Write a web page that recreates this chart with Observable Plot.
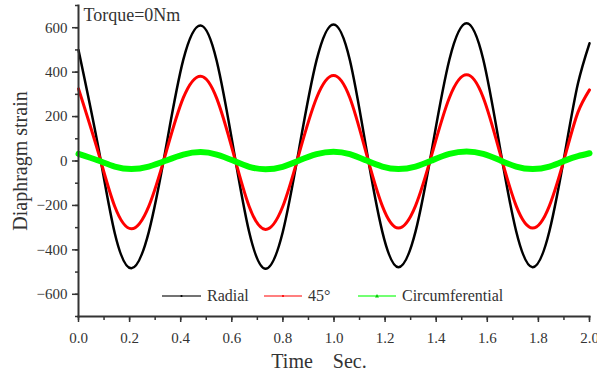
<!DOCTYPE html>
<html><head><meta charset="utf-8">
<script src="https://cdn.jsdelivr.net/npm/d3@7"></script>
<script src="https://cdn.jsdelivr.net/npm/@observablehq/plot@0.6"></script>
<style>
body{margin:0;background:#fff}
#wrap{position:relative;width:597px;height:374px;font-family:"Liberation Serif",serif;color:#333}
#wrap svg text{font-family:"Liberation Serif",serif}
.leg{position:absolute;top:286px;height:20px;display:flex;align-items:center;font-size:16px;white-space:nowrap}
.leg svg{margin-right:6px}
</style></head><body><div id="wrap"></div>
<script>
const times = [0,0.077,0.142,0.207,0.275,0.343,0.410,0.478,0.541,0.605,0.668,0.732,0.799,0.865,0.932,0.998,1.062,1.125,1.189,1.252,1.319,1.386,1.452,1.519,1.584,1.648,1.713,1.777,1.843,1.909,1.955,2.0];
const radial = [500,65,-325,-483,-320,65,455,610,450,65,-320,-485,-322,65,455,615,455,65,-318,-478,-318,70,458,620,458,70,-316,-478,-316,70,350,530];
const deg45 = [325,40,-205,-305,-204,40,284,382,282,40,-205,-308,-206,40,285,385,285,40,-202,-302,-202,42,286,388,286,42,-202,-302,-202,42,220,320];
const circumferential = [32,2,-25,-36,-25,2,29,40,29,2,-26,-37,-26,3,31,42,31,3,-25,-36,-25,4,32,43,32,4,-25,-36,-25,4,22,35];
const seriesNames = ["Radial","45°","Circumferential"];
const seriesColors = ["#000000","#ff0000","#00ff00"];
const seriesWidths = [2.5,3,6];
const xMajor = d3.range(0,2.0001,0.2);
const xMinor = d3.range(0,2.0001,0.1);
const yMajor = d3.range(-600,601,200);
const yMinor = d3.range(-700,701,100);
const title = "Torque=0Nm";
const xLabel = "Time\u00a0\u00a0\u00a0\u00a0Sec.";
const yLabel = "Diaphragm strain";

const data = [];
[radial,deg45,circumferential].forEach((vals,si)=>{
  vals.forEach((v,i)=>data.push({t:times[i],v,s:seriesNames[si]}));
});

const FF = "Liberation Serif";
const lineMarks = seriesNames.map((name,si)=>Plot.line(data.filter(d=>d.s===name),{x:"t",y:"v",stroke:seriesColors[si],strokeWidth:seriesWidths[si],curve:"natural"}));

const plot = Plot.plot({
  width:597,height:374,
  marginLeft:78,marginRight:8,marginTop:5,marginBottom:58,
  style:{fontFamily:"'Liberation Serif', serif",fontSize:"15px",color:"#333",background:"#fff"},
  x:{domain:[0,2]},
  y:{domain:[-700,700]},
  marks:[
    ...lineMarks,
    Plot.axisX({ticks:xMinor,tickSize:4,text:null,label:null,strokeWidth:1.5,stroke:"#333"}),
    Plot.axisX({ticks:xMajor,tickSize:6,tickPadding:10,tickFormat:d3.format(".1f"),label:null,fontSize:15,fontFamily:FF,strokeWidth:1.5,stroke:"#333",fill:"#333"}),
    Plot.axisY({ticks:yMinor,tickSize:3,text:null,label:null,strokeWidth:1.5,stroke:"#333"}),
    Plot.axisY({ticks:yMajor,tickSize:6,tickPadding:5,tickFormat:d3.format("d"),label:null,fontSize:15,fontFamily:FF,strokeWidth:1.5,stroke:"#333",fill:"#333"}),
    Plot.frame({anchor:"left",stroke:"#333",strokeWidth:2}),
    Plot.frame({anchor:"bottom",stroke:"#333",strokeWidth:2}),
    Plot.text([title],{frameAnchor:"top-left",dx:5,dy:3,lineAnchor:"top",textAnchor:"start",fontSize:18,fontFamily:FF,fill:"#333"}),
    Plot.text([yLabel],{frameAnchor:"left",rotate:-90,dx:-58,textAnchor:"middle",lineAnchor:"middle",fontSize:20,fontFamily:FF,fill:"#333"}),
    Plot.text([xLabel],{frameAnchor:"bottom",dx:-15,dy:45,textAnchor:"middle",lineAnchor:"middle",fontSize:20,fontFamily:FF,fill:"#333"})
  ]
});
const wrap = document.getElementById("wrap");
wrap.appendChild(plot);

const legendX = [[162,207],[264,308],[358,402]];
const legendLine = ["#444","#ff5555","#44ff44"];
seriesNames.forEach((name,i)=>{
  const div = document.createElement("div");
  div.className="leg";
  div.style.left = legendX[i][0]+"px";
  const w = legendX[i][1]-legendX[i][0]-6;
  const marker = i===2
    ? `<path d="M${w/2-2},${11.5} L${w/2+2},${11.5} L${w/2},${8} Z" fill="#00cc00"/>`
    : `<circle cx="${w/2}" cy="10" r="1.1" fill="${seriesColors[i]}"/>`;
  div.innerHTML = `<svg width="${w}" height="20"><line x1="0" x2="${w}" y1="10" y2="10" stroke="${legendLine[i]}" stroke-width="1.3"/>${marker}</svg><span>${name}</span>`;
  wrap.appendChild(div);
});
</script></body></html>
